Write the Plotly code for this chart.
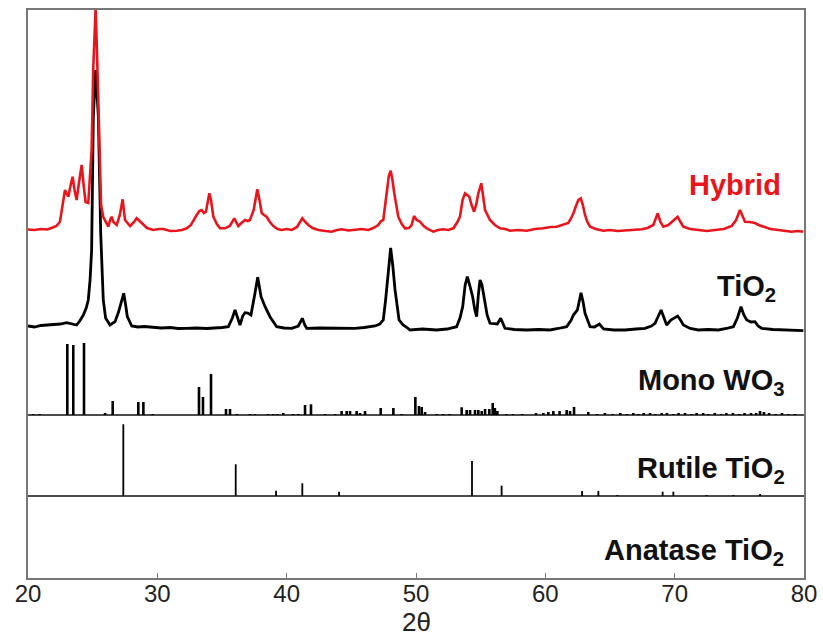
import plotly.graph_objects as go

# ---------------- data ----------------
# Hybrid (red) pattern: 2theta and relative intensity
hyb_x = [20.0, 20.5, 21.0, 21.5, 21.96, 22.2, 22.47, 22.7, 22.86, 23.0, 23.12, 23.3, 23.45, 23.6, 23.76,
         23.95, 24.15, 24.3, 24.45, 24.66, 24.8, 24.92, 25.05, 25.23, 25.35, 25.44, 25.55, 25.65, 25.82,
         26.0, 26.21, 26.35, 26.47, 26.6, 26.86, 27.1, 27.32, 27.5, 27.63, 27.9, 28.2, 28.4, 28.55, 28.79,
         29.2, 29.69, 30.1, 30.46, 31.0, 31.5, 31.9, 32.27, 32.6, 33.04, 33.25, 33.43, 33.6, 33.76, 34.02,
         34.15, 34.33, 34.6, 34.85, 35.23, 35.6, 35.95, 36.26, 36.5, 36.78, 37.0, 37.16, 37.45, 37.73, 37.9,
         38.07, 38.25, 38.45, 38.7, 38.97, 39.3, 39.61, 40.0, 40.39, 40.8, 41.21, 41.45, 41.68, 42.0, 42.45,
         43.0, 43.48, 43.9, 44.25, 44.8, 45.28, 45.8, 46.31, 46.7, 47.08, 47.3, 47.47, 47.73, 47.9, 48.04,
         48.18, 48.32, 48.63, 48.9, 49.15, 49.45, 49.66, 49.85, 50.05, 50.31, 50.6, 50.9, 51.34, 51.7, 52.11,
         52.5, 52.89, 53.2, 53.4, 53.6, 53.79, 53.95, 54.12, 54.3, 54.49, 54.65, 54.82, 55.05, 55.2, 55.34,
         55.72, 56.1, 56.5, 56.9, 57.27, 57.9, 58.56, 59.2, 59.85, 60.4, 60.88, 61.3, 61.78, 62.0, 62.17,
         62.4, 62.55, 62.74, 62.9, 63.07, 63.25, 63.46, 63.9, 64.49, 65.0, 65.6, 66.16, 66.8, 67.45, 67.9,
         68.35, 68.55, 68.69, 68.9, 69.12, 69.51, 69.9, 70.23, 70.45, 70.67, 71.2, 71.83, 72.5, 73.12, 73.8,
         74.41, 74.75, 75.05, 75.25, 75.44, 75.8, 76.21, 76.5, 76.86, 77.4, 78.02, 78.5, 79.05, 79.5, 79.95]
hyb_y = [0.5, 0, 1, 0.5, 2.7, 4, 8.3, 25, 40, 36, 33.3, 45, 53.3, 40, 30,
         48, 65, 45, 28, 27, 55, 80, 163, 222, 170, 130, 60, 25, 13,
         8, 3.3, 10, 13.3, 8, 5, 15, 30.7, 10, 8.3, 4, 8, 11.7, 10, 7,
         2, 0, 1, 1, -1, -0.7, 0, 1.7, 5, 15, 19, 20, 17, 18.3, 36.7,
         30, 13.3, 6, 1.7, 1.7, 4, 11.7, 4, 7, 10, 9, 10, 20, 40.7, 30,
         17, 15, 13.3, 8, 4, 1, 0, 1, 0, 3, 11.7, 8, 5, 2, 0,
         -1, -1.7, 0, 0.7, -0.5, 0, 1, 0, 2, 5, 9, 10, 36.7, 54, 59.3,
         50, 36.7, 13.3, 6, 1.7, 2, 5, 14, 10, 8.3, 4, 1, -1.7, 0, 0.7,
         0, 1.7, 8, 13.3, 30, 36.7, 35, 33.3, 25, 18.3, 25, 36.7, 46.7, 30, 20,
         10, 5, 1.7, 1, -0.7, 0, -0.7, 1, 1.7, 3, 3.3, 5, 7, 12, 16.7,
         25, 30, 31.7, 25, 15, 8, 3.3, 1, -0.7, 0, -1, -0.7, 0, 0.7, 2,
         5, 12, 16.7, 8, 3.3, 5, 9, 13.3, 8, 3.3, 1, 0, -1, 0, 1,
         4, 10, 20, 14, 8.3, 8, 7, 5, 3.3, 1, 0, -1, -1.7, -1, -1.7]

# TiO2 (black) pattern
tio_x = [20.0, 20.5, 21.0, 21.44, 22.0, 22.5, 22.99, 23.4, 23.76, 24.0, 24.28, 24.5, 24.66, 24.8, 24.92,
         25.05, 25.23, 25.44, 25.55, 25.62, 25.82, 26.0, 26.34, 26.73, 27.0, 27.11, 27.4, 27.55, 27.68, 28.02,
         28.5, 29.0, 29.69, 30.3, 31.0, 31.6, 32.27, 33.0, 33.8, 34.46, 35.0, 35.49, 35.8, 36.01, 36.2,
         36.39, 36.6, 36.78, 37.0, 37.24, 37.55, 37.76, 38.02, 38.33, 38.71, 39.0, 39.23, 39.8, 40.39, 40.9,
         41.21, 41.4, 41.55, 42.5, 43.48, 44.4, 45.28, 46.0, 46.83, 47.2, 47.47, 47.65, 47.81, 48.04, 48.2,
         48.38, 48.69, 49.0, 49.28, 49.54, 50.5, 51.6, 52.4, 53.14, 53.4, 53.61, 53.8, 53.97, 54.15, 54.38,
         54.55, 54.69, 54.82, 54.95, 55.1, 55.26, 55.5, 55.72, 56.29, 56.55, 56.88, 57.6, 58.56, 59.5, 60.36,
         61.0, 61.65, 62.0, 62.17, 62.48, 62.76, 62.92, 63.07, 63.46, 63.8, 64.18, 64.5, 65.3, 66.16, 67.0,
         67.71, 68.2, 68.48, 68.95, 69.15, 69.38, 69.7, 69.9, 70.23, 70.45, 70.67, 71.2, 71.83, 72.6, 73.38,
         74.0, 74.54, 74.85, 75.13, 75.35, 75.57, 75.9, 76.21, 76.45, 76.73, 77.6, 78.53, 79.3, 79.95]
tio_y = [2, 1, 2.5, 3, 3, 4, 5.3, 4, 3, 7, 13, 20, 28, 48, 78,
         211, 258, 211, 138, 95, 28, 10, 3, 6.3, 16, 21.3, 34.7, 23, 11.3, 2,
         1, 1.5, 0.7, 0, 0.5, -0.5, -0.3, 0, -0.5, -0.3, 0.5, 1.3, 10, 18, 10,
         3, 12, 15.3, 15, 13, 34.7, 50.7, 31.3, 21.3, 11.3, 5, 1.3, 0, -0.3, 2,
         9.7, 3, -0.3, 0, -0.3, 0, -0.3, 0.5, 2, 4, 8, 28, 51.3, 80, 63,
         38, 8, 3, 0.7, -2, -1, -2, -1, 1.3, 10, 21.3, 43, 51.3, 43, 31.3,
         18, 11.3, 33, 48, 43, 31.3, 13, 4.7, 4, 9.7, -0.3, -1.5, -2, -1.5, -2,
         -0.5, 1.3, 8, 13, 18, 35.3, 26, 14.7, 1.3, 1, 4, -1, -2, -2, -1,
         -0.3, 2, 4.7, 18, 10, 3, 8, 9.7, 12, 8, 3, -0.5, -2, -1.5, -2,
         -0.5, 1.3, 10, 21.3, 13, 8, 6, 6.3, 2, -0.3, -1.5, -2, -2, -2.7]

# Monoclinic WO3 reference lines
wo3_pos = [20.4, 20.9, 23.04, 23.5, 24.33, 25.96, 26.55, 28.53, 28.92, 29.64, 33.22, 33.53, 34.15,
           35.31, 35.62, 36.14, 37.16, 37.55, 38.56, 38.95, 39.3, 39.74, 40.5, 40.9, 41.42, 41.88,
           42.96, 43.74, 44.25, 44.64, 44.9, 45.41, 45.67, 46.06, 47.27, 48.25, 48.89, 49.95, 50.23,
           50.44, 50.7, 51.6, 52.1, 52.6, 53.53, 53.92, 54.18, 54.56, 54.82, 55.08, 55.34, 55.67,
           55.93, 56.1, 56.29, 57.0, 57.5, 58.2, 59.28, 59.85, 60.23, 60.62, 61.1, 61.65, 61.91,
           62.22, 63.32, 64.0, 64.6, 65.2, 65.8, 66.3, 66.8, 67.2, 67.6, 68.1, 68.5, 69.0, 69.4,
           69.9, 70.3, 70.8, 71.3, 71.7, 72.2, 72.6, 73.1, 73.6, 74.0, 74.5, 75.0, 75.4, 75.9,
           76.3, 76.6, 76.9, 77.3, 77.8, 78.3, 78.8, 79.3]
wo3_int = [1, 1, 71, 70, 72, 2, 14, 13, 13, 1, 28, 18, 41,
           6, 6, 1, 1, 1, 1, 1, 1, 2, 1, 1, 10, 10.7,
           1, 1, 4, 4, 4, 4, 2, 4, 7, 7, 1, 18, 9,
           8, 3, 1, 1, 1, 7.7, 5, 5, 5, 5, 4, 6, 6,
           12, 7, 4, 1, 1, 1, 2, 2, 3, 4, 4, 5, 4,
           8, 3, 1, 2, 1, 2, 1, 2, 1, 2, 2, 1, 2, 2,
           1, 2, 2, 1, 2, 2, 1, 2, 1, 2, 2, 1, 2, 2,
           2, 4, 3, 2, 1, 2, 1, 1]

# Rutile TiO2 reference lines
rut_pos = [27.37, 36.06, 39.18, 41.21, 44.05, 54.33, 56.62, 62.84, 64.1, 65.57, 69.07, 69.9, 72.47, 74.53, 76.6]
rut_int = [71.7, 31.7, 5.3, 12.7, 4.3, 35, 10.3, 5, 5, 1, 4.3, 4.3, 1, 1, 2]

x_ticks = [20, 30, 40, 50, 60, 70, 80]

# vertical offsets (stacking) in plot units
OFF_HYB = 348
OFF_TIO = 250
OFF_WO3 = 163
OFF_RUT = 82
OFF_ANA = 0
Y_MAX = 568

RED = "#e8161c"
FONT = "Liberation Sans, Arial, sans-serif"


def sticks(pos, inten, base):
    xs, ys = [], []
    for p, h in zip(pos, inten):
        xs += [p, p, None]
        ys += [base, base + h, None]
    return xs, ys


fig = go.Figure()

# baselines of reference patterns
for off in (OFF_WO3, OFF_RUT):
    fig.add_trace(go.Scatter(x=[x_ticks[0], x_ticks[-1]], y=[off, off], mode="lines",
                             line=dict(color="#111111", width=1.5), showlegend=False, hoverinfo="skip"))

wx, wy = sticks(wo3_pos, wo3_int, OFF_WO3)
fig.add_trace(go.Scatter(x=wx, y=wy, mode="lines", line=dict(color="#000000", width=2.6),
                         showlegend=False, name="Mono WO3"))
rx, ry = sticks(rut_pos, rut_int, OFF_RUT)
fig.add_trace(go.Scatter(x=rx, y=ry, mode="lines", line=dict(color="#000000", width=1.8),
                         showlegend=False, name="Rutile TiO2"))

fig.add_trace(go.Scatter(x=tio_x, y=[v + OFF_TIO for v in tio_y], mode="lines",
                         line=dict(color="#000000", width=2.8), showlegend=False, name="TiO2"))
fig.add_trace(go.Scatter(x=hyb_x, y=[v + OFF_HYB for v in hyb_y], mode="lines",
                         line=dict(color=RED, width=2.6), showlegend=False, name="Hybrid"))

labels = [
    ("Hybrid", OFF_HYB + 45, RED, 78.4),
    ("TiO<sub>2</sub>", OFF_TIO + 40, "#111111", 78.0),
    ("Mono WO<sub>3</sub>", OFF_WO3 + 33, "#111111", 78.7),
    ("Rutile TiO<sub>2</sub>", OFF_RUT + 26, "#111111", 78.7),
    ("Anatase TiO<sub>2</sub>", OFF_ANA + 26, "#111111", 78.6),
]
for txt, y, col, x in labels:
    fig.add_annotation(x=x, y=y, text="<b>" + txt + "</b>", showarrow=False, xanchor="right",
                       yanchor="middle", font=dict(family=FONT, size=29, color=col))

# x-axis title placed below the tick labels
fig.add_annotation(x=0.5, xref="paper", y=-0.0775, yref="paper", text="2θ", showarrow=False,
                   xanchor="center", yanchor="middle", font=dict(family=FONT, size=26, color="#222222"))

fig.update_layout(
    width=823, height=637,
    margin=dict(l=28, r=19, t=10, b=59, autoexpand=False),
    paper_bgcolor="white", plot_bgcolor="white",
    font=dict(family=FONT, color="#222222"),
    xaxis=dict(range=[20, 80], tickvals=x_ticks, ticktext=[str(t) for t in x_ticks],
               ticks="inside", ticklen=5, tickcolor="#777777", tickwidth=1.2,
               showline=True, linecolor="#777777", linewidth=1.5, mirror=True,
               showgrid=False, zeroline=False, tickfont=dict(size=24, color="#222222"),
               ticklabelstandoff=-7, automargin=False),
    yaxis=dict(range=[0, Y_MAX], showticklabels=False, ticks="", showgrid=False, zeroline=False,
               showline=True, linecolor="#777777", linewidth=1.5, mirror=True, automargin=False),
)

fig.write_html("out.html")
